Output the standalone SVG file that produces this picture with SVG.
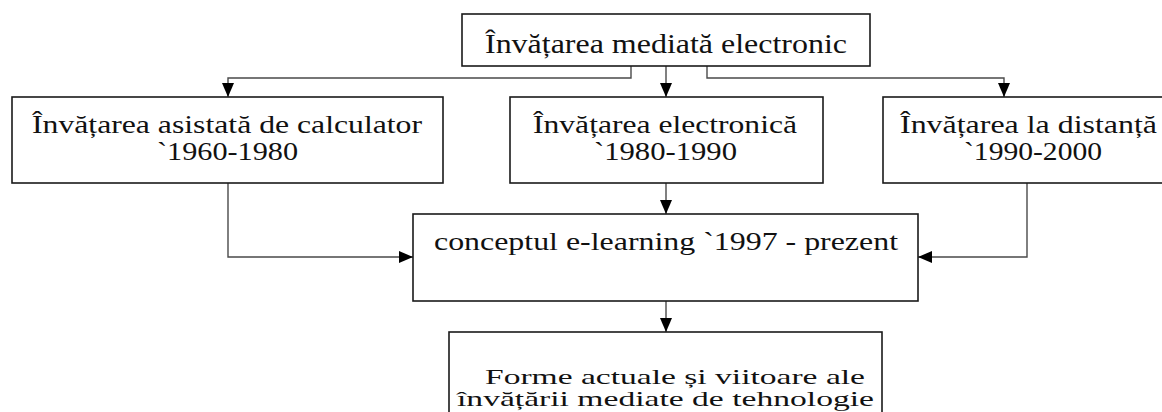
<svg xmlns="http://www.w3.org/2000/svg" width="1162" height="412" viewBox="0 0 1162 412">
  <style>
    .box { fill: #ffffff; stroke: #1a1a1a; stroke-width: 1.6; }
    .lbl { fill: #111111; font-family: 'Liberation Serif', 'Times New Roman', Times, serif; }
    .con { fill: none; stroke: #4a4a4a; stroke-width: 1.4; }
  </style>
  <defs>
    <marker id="arr" markerUnits="userSpaceOnUse" markerWidth="14" markerHeight="12" viewBox="0 0 14 12" refX="14" refY="6" orient="auto">
      <path d="M0,0 L14,6 L0,12 Z" fill="#000000"/>
    </marker>
  </defs>
  <rect width="1162" height="412" fill="#ffffff"/>

  <g id="connectors">
    <path class="con" d="M631 66 V78 H228 V97" marker-end="url(#arr)"/>
    <path class="con" d="M666 66 V97" marker-end="url(#arr)"/>
    <path class="con" d="M707 66 V78 H1004 V97" marker-end="url(#arr)"/>
    <path class="con" d="M228 183 V257 H413" marker-end="url(#arr)"/>
    <path class="con" d="M666 183 V214" marker-end="url(#arr)"/>
    <path class="con" d="M1027 183 V257 H918" marker-end="url(#arr)"/>
    <path class="con" d="M666 301 V332" marker-end="url(#arr)"/>
  </g>

  <g id="node-top">
    <rect class="box" x="462" y="14" width="408" height="52"/>
    <text class="lbl" x="485" y="53" font-size="28" textLength="362" lengthAdjust="spacingAndGlyphs">Învățarea mediată electronic</text>
  </g>

  <g id="node-asistata">
    <rect class="box" x="12" y="97" width="431" height="86"/>
    <text class="lbl" x="32" y="133" font-size="26" textLength="390" lengthAdjust="spacingAndGlyphs">Învățarea asistată de calculator</text>
    <text class="lbl" x="157" y="160" font-size="26" textLength="141" lengthAdjust="spacingAndGlyphs">`1960-1980</text>
  </g>

  <g id="node-electronica">
    <rect class="box" x="510" y="97" width="313" height="86"/>
    <text class="lbl" x="533" y="133" font-size="26" textLength="264" lengthAdjust="spacingAndGlyphs">Învățarea electronică</text>
    <text class="lbl" x="594" y="160" font-size="26" textLength="143" lengthAdjust="spacingAndGlyphs">`1980-1990</text>
  </g>

  <g id="node-distanta">
    <rect class="box" x="883" y="97" width="300" height="86"/>
    <text class="lbl" x="900" y="133" font-size="26" textLength="257" lengthAdjust="spacingAndGlyphs">Învățarea la distanță</text>
    <text class="lbl" x="964" y="160" font-size="26" textLength="138" lengthAdjust="spacingAndGlyphs">`1990-2000</text>
  </g>

  <g id="node-elearning">
    <rect class="box" x="413" y="214" width="505" height="87"/>
    <text class="lbl" x="434" y="250" font-size="26" textLength="464" lengthAdjust="spacingAndGlyphs">conceptul e-learning `1997 - prezent</text>
  </g>

  <g id="node-forme">
    <rect class="box" x="449" y="332" width="433" height="100"/>
    <text class="lbl" x="485" y="384" font-size="21" textLength="380" lengthAdjust="spacingAndGlyphs">Forme actuale și viitoare ale</text>
    <text class="lbl" x="457" y="406" font-size="21" textLength="417" lengthAdjust="spacingAndGlyphs">învățării mediate de tehnologie</text>
  </g>
</svg>
